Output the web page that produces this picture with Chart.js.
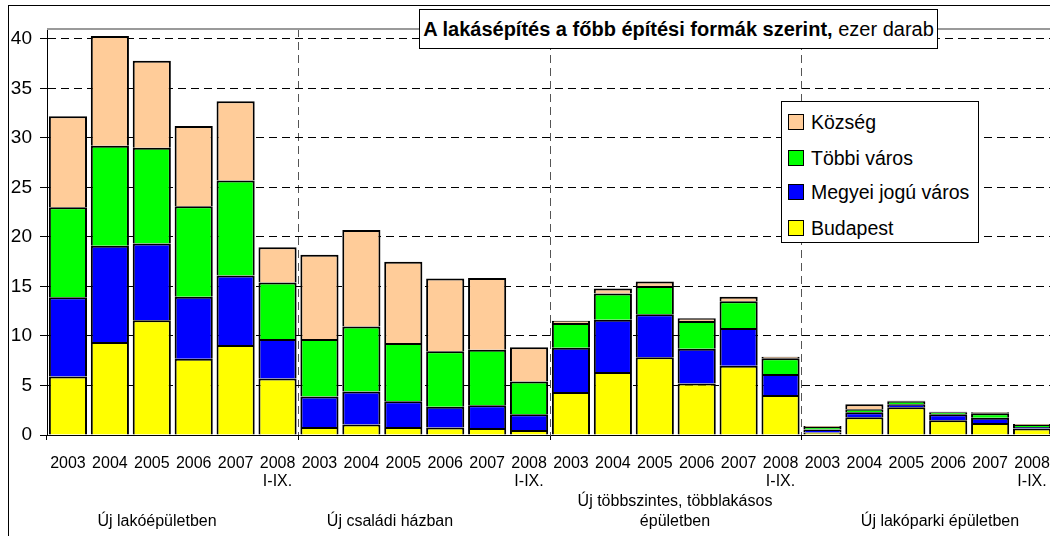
<!DOCTYPE html>
<html>
<head>
<meta charset="utf-8">
<script src="https://cdn.jsdelivr.net/npm/chart.js@4/dist/chart.umd.min.js"></script>
<style>
html,body{margin:0;padding:0;background:#fff;}
#wrap{position:relative;width:1050px;height:536px;overflow:hidden;background:#fff;}
#c{position:absolute;left:0;top:0;}
#frame{position:absolute;left:8px;top:5px;width:1100px;height:700px;border-left:1px solid #000;border-top:1px solid #000;pointer-events:none;}
#title{position:absolute;left:419px;top:9px;width:517px;height:38px;border:1px solid #000;background:#fff;font-family:'Liberation Sans',Arial,sans-serif;font-size:20px;line-height:38px;text-align:center;white-space:nowrap;color:#000;}
#legend{position:absolute;left:781px;top:101px;width:196px;height:140px;border:1px solid #000;background:#fff;font-family:'Liberation Sans',Arial,sans-serif;font-size:19.5px;color:#000;}
.li{position:absolute;left:6px;height:20px;line-height:20px;white-space:nowrap;}
.sw{position:absolute;left:0;top:2px;width:14px;height:14px;border:1px solid #000;}
.lt{position:absolute;left:23px;top:0;}
.grp{position:absolute;font-family:'Liberation Sans',Arial,sans-serif;font-size:16px;line-height:20px;text-align:center;white-space:nowrap;color:#000;transform:translateX(-50%);}
</style>
</head>
<body>
<div id="wrap">
<canvas id="c" width="1064" height="536"></canvas>
<div id="frame"></div>
<div id="title"><b>A lakásépítés a főbb építési formák szerint,</b> ezer darab</div>
<div id="legend"></div>
</div>
<script>
// ---- data (thousand dwellings) ----
const categories = [
  '2003','2004','2005','2006','2007',['2008','I-IX.'],
  '2003','2004','2005','2006','2007',['2008','I-IX.'],
  '2003','2004','2005','2006','2007',['2008','I-IX.'],
  '2003','2004','2005','2006','2007',['2008','I-IX.']
];
const groupLabels = ['Új lakóépületben','Új családi házban','Új többszintes, többlakásos\népületben','Új lakóparki épületben'];
const seriesNames = ['Budapest','Megyei jogú város','Többi város','Község'];
const budapest = [5.9, 9.4, 11.6, 7.7, 9.1, 5.7,  0.8, 1.05, 0.8, 0.75, 0.7, 0.5,  4.35, 6.35, 7.85, 5.2, 7.0, 4.05,  0.25, 1.8, 2.8, 1.5, 1.2, 0.65];
const megyei   = [8.0, 9.7, 7.75, 6.25, 7.0, 4.0,  3.1, 3.35, 2.6, 2.1, 2.3, 1.6,  4.45, 5.3, 4.35, 3.5, 3.8, 2.1,  0.3, 0.5, 0.3, 0.6, 0.55, 0.15];
const tobbi    = [9.1, 10.1, 9.65, 9.15, 9.6, 5.7,  5.8, 6.55, 5.9, 5.6, 5.6, 3.3,  2.5, 2.65, 2.85, 2.8, 2.7, 1.6,  0.25, 0.3, 0.3, 0.2, 0.45, 0.2];
const kozseg   = [9.2, 11.1, 8.8, 8.1, 8.0, 3.55,  8.5, 9.75, 8.2, 7.35, 7.25, 3.45,  0.25, 0.5, 0.45, 0.3, 0.45, 0.15,  0.1, 0.5, 0.05, 0.05, 0.1, 0.1];
const yTicks = [0, 5, 10, 15, 20, 25, 30, 35, 40];

const colors = ['#FFFF00', '#0000FF', '#00FF00', '#FFCC99'];
const seriesValues = [budapest, megyei, tobbi, kozseg];

const datasets = seriesValues.map((vals, i) => ({
  label: seriesNames[i],
  data: vals,
  backgroundColor: colors[i],
  borderColor: '#000',
  borderWidth: 2,
  borderSkipped: 'start',
  barPercentage: 0.91,
  categoryPercentage: 1.0
}));

const plotBorder = {
  id: 'plotBorder',
  beforeDatasetsDraw(chart) {
    const {ctx, chartArea: a} = chart;
    ctx.save();
    ctx.strokeStyle = '#9a9a9a';
    ctx.lineWidth = 2;
    ctx.beginPath();
    ctx.moveTo(a.left, a.top);
    ctx.lineTo(a.right, a.top);
    ctx.stroke();
    ctx.restore();
  }
};

const groupSize = 6;
const chart = new Chart(document.getElementById('c'), {
  type: 'bar',
  data: { labels: categories, datasets },
  plugins: [plotBorder],
  options: {
    responsive: false,
    animation: false,
    devicePixelRatio: 1,
    layout: { padding: { top: 29, right: 11, bottom: 0, left: 0 } },
    plugins: { legend: { display: false }, title: { display: false }, tooltip: { enabled: false } },
    scales: {
      x: {
        stacked: true,
        offset: true,
        afterFit(s) { s.height = 101; s.paddingLeft = 0; s.paddingRight = 0; },
        grid: {
          offset: true,
          drawOnChartArea: true,
          color: (c) => (c.index % groupSize === 0 && c.index > 0 && c.index < categories.length) ? '#555555' : 'rgba(0,0,0,0)',
          lineWidth: 1,
          drawTicks: true,
          tickLength: 5,
          tickColor: (c) => (c.index % groupSize === 0) ? '#000' : 'rgba(0,0,0,0)',
          tickBorderDash: []
        },
        border: { display: true, color: '#000', width: 1, dash: [8, 5] },
        ticks: {
          autoSkip: false,
          maxRotation: 0,
          minRotation: 0,
          padding: 14,
          color: '#000',
          font: { family: "'Liberation Sans',Arial,sans-serif", size: 16, lineHeight: 1.15 }
        }
      },
      y: {
        stacked: true,
        min: 0,
        max: 41,
        afterFit(s) { s.width = 47; },
        afterBuildTicks(s) { s.ticks = yTicks.map(v => ({ value: v })); },
        grid: {
          color: '#000',
          lineWidth: 1,
          drawTicks: true,
          tickLength: 7,
          tickColor: '#000',
          tickBorderDash: []
        },
        border: { display: true, color: '#000', width: 1, dash: [8, 5] },
        ticks: {
          stepSize: 5,
          includeBounds: false,
          padding: 8,
          color: '#000',
          font: { family: "'Liberation Sans',Arial,sans-serif", size: 19 }
        }
      }
    }
  }
});

// legend (reverse order, as in the original)
const lg = document.getElementById('legend');
const rowTops = [10, 46, 80, 116];
for (let k = 0; k < seriesNames.length; k++) {
  const i = seriesNames.length - 1 - k;
  const row = document.createElement('div');
  row.className = 'li';
  row.style.top = rowTops[k] + 'px';
  row.innerHTML = '<span class="sw" style="background:' + colors[i] + '"></span><span class="lt">' + seriesNames[i] + '</span>';
  lg.appendChild(row);
}

// group captions under the axis
const wrap = document.getElementById('wrap');
const grpCenters = [157, 390, 675, 940];
const grpTops = [511, 511, 491, 511];
groupLabels.forEach((t, i) => {
  const d = document.createElement('div');
  d.className = 'grp';
  d.style.left = grpCenters[i] + 'px';
  d.style.top = grpTops[i] + 'px';
  d.innerHTML = t.replace('\n', '<br>');
  wrap.appendChild(d);
});
</script>
</body>
</html>
